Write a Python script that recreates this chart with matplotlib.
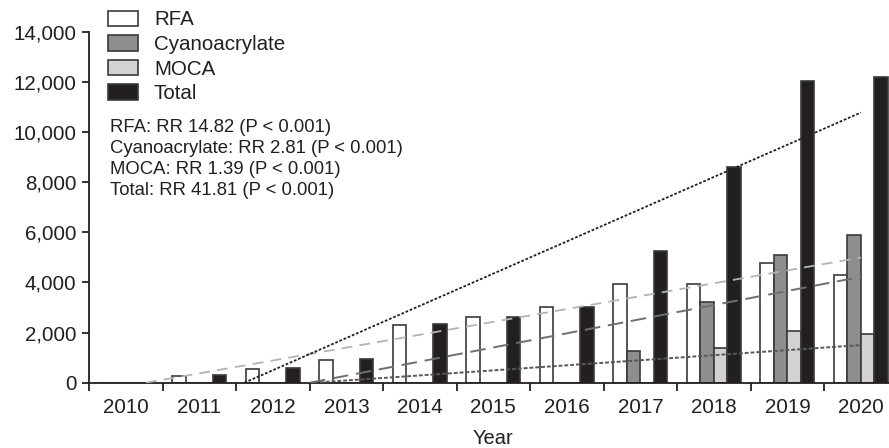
import numpy as np
import matplotlib
matplotlib.use("Agg")
import matplotlib.pyplot as plt
from matplotlib.patches import Patch

plt.rcParams["font.family"] = ["Liberation Sans", "DejaVu Sans"]

years = ["2010", "2011", "2012", "2013", "2014", "2015", "2016", "2017", "2018", "2019", "2020"]
rfa = [0, 280, 560, 920, 2300, 2630, 3030, 3940, 3950, 4790, 4310]
cyanoacrylate = [0, 0, 0, 0, 0, 0, 0, 1280, 3210, 5080, 5910]
moca = [0, 0, 0, 0, 0, 0, 0, 0, 1400, 2070, 1950]
total = [0, 290, 580, 940, 2340, 2610, 3030, 5270, 8600, 12040, 12210]
series_names = ["RFA", "Cyanoacrylate", "MOCA", "Total"]
stats_lines = [
    "RFA: RR 14.82 (P < 0.001)",
    "Cyanoacrylate: RR 2.81 (P < 0.001)",
    "MOCA: RR 1.39 (P < 0.001)",
    "Total: RR 41.81 (P < 0.001)",
]

ink = "#231f20"
fills = ["#ffffff", "#8e8e90", "#d2d2d4", ink]
trend_styles = [
    dict(color="#b4b4b6", linestyle=(0, (6, 4)), linewidth=1.3),
    dict(color="#6f6f71", linestyle=(0, (8, 4)), linewidth=1.4),
    dict(color="#58585a", linestyle=(0, (2, 1)), linewidth=1.4),
    dict(color=ink, linestyle=(0, (1.5, 1)), linewidth=1.3),
]

fig = plt.figure(figsize=(8.89, 4.48), dpi=100)
ax = fig.add_axes([89 / 889, 65.3 / 448, 808.7 / 889, 350.7 / 448])

x = np.arange(len(years))
w = 0.184
data = [rfa, cyanoacrylate, moca, total]
for i, (vals, fc) in enumerate(zip(data, fills)):
    ax.bar(x + (i - 1.5) * w, vals, width=w, color=fc, edgecolor="#3a3a3c",
           linewidth=1.2, zorder=2)

# linear trend for each series, drawn from where the fit crosses zero
for vals, style in zip(data, trend_styles):
    slope, icpt = np.polyfit(x, np.asarray(vals, float), 1)
    x0 = max(0.0, -icpt / slope)
    xs = np.array([x0, x[-1]])
    ax.plot(xs, slope * xs + icpt, zorder=3, **style)

ax.set_xlim(-0.5, 10.5)
ax.set_ylim(0, 14000)
ax.set_yticks(np.arange(0, 14001, 2000))
ax.set_yticklabels([f"{v:,}" for v in range(0, 14001, 2000)])
ax.set_xticks(x)
ax.set_xticklabels(years)
ax.set_xticks(np.arange(-0.5, 10.6, 1.0), minor=True)
ax.tick_params(axis="x", which="major", length=0, pad=11, labelsize=14.8, colors=ink)
ax.tick_params(axis="x", which="minor", length=6, width=1.3, color=ink)
ax.tick_params(axis="y", length=5, width=1.3, pad=4, labelsize=14.8, colors=ink)
for side in ("top", "right"):
    ax.spines[side].set_visible(False)
for side in ("left", "bottom"):
    ax.spines[side].set_linewidth(1.3)
    ax.spines[side].set_color(ink)
ax.set_xlabel("Year", fontsize=14.5, color=ink, labelpad=9)

handles = [Patch(facecolor=fc, edgecolor="#3a3a3c", linewidth=1.2) for fc in fills]
ax.legend(handles, series_names, loc="upper left", bbox_to_anchor=(0.013, 1.085),
          frameon=False, fontsize=14.8, handlelength=1.45, handleheight=0.78,
          handletextpad=0.8, labelspacing=0.27, borderaxespad=0.0,
          labelcolor=ink)

ax.text(0.026, 0.752, "\n".join(stats_lines), transform=ax.transAxes,
        fontsize=13.3, color=ink, va="top", ha="left", linespacing=1.3)

fig.savefig("out.png", dpi=100)
